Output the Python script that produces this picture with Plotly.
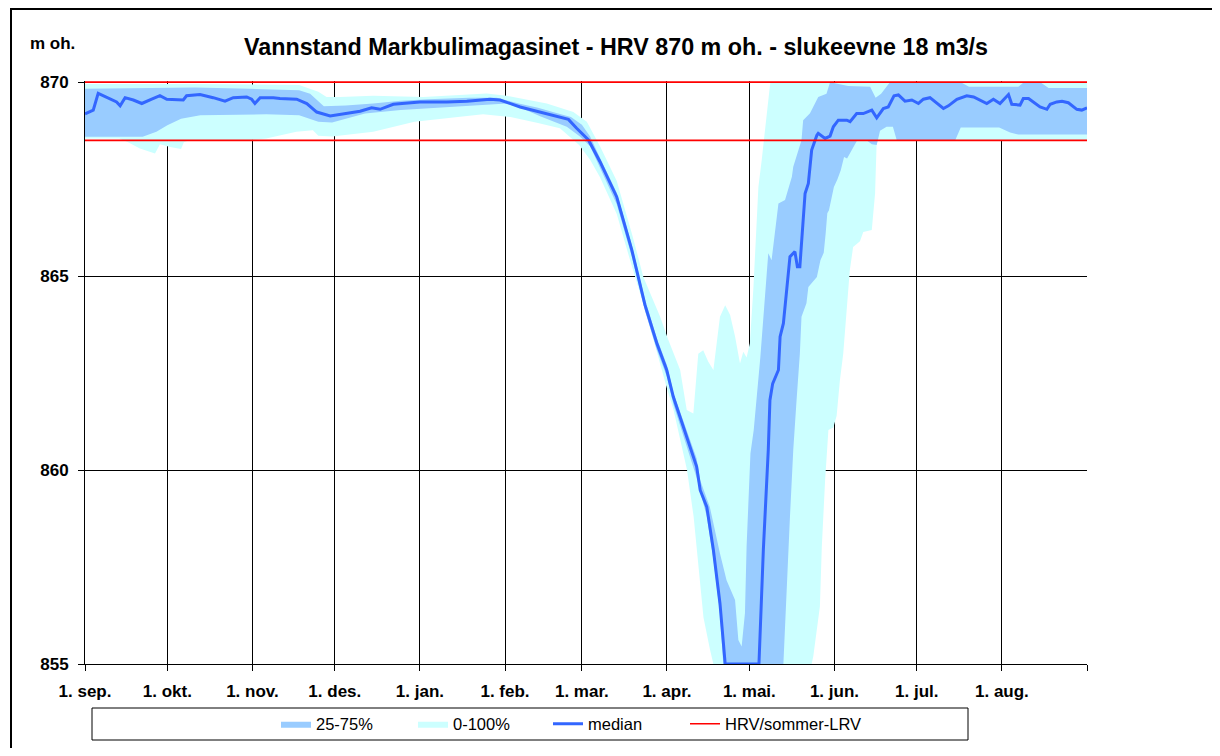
import plotly.graph_objects as go

# ---- axis categories (day of hydrological year, 1. sep = day 0) ----
month_days = [0, 30, 61, 91, 122, 153, 181, 212, 242, 273, 303, 334, 365]
month_labels = ["1. sep.", "1. okt.", "1. nov.", "1. des.", "1. jan.", "1. feb.",
                "1. mar.", "1. apr.", "1. mai.", "1. jun.", "1. jul.", "1. aug.", ""]
y_ticks = [855, 860, 865, 870]

# ---- reservoir limits ----
hrv = 870.0
summer_lrv = 868.5

# ---- median ----
median_day = [0, 3.0, 4.8, 7.9, 11.5, 12.8, 14.6, 17.6, 20.7, 24.3, 27.3, 29.8, 35.8, 37.0, 41.9,
              46.7, 51.0, 54.0, 58.9, 60.7, 61.9, 63.8, 68.6, 71.0, 77.1, 80.8, 84.4, 89.3, 95.3,
              100.2, 104.4, 107.5, 112.3, 122.0, 131.8, 139.1, 147.5, 151.2, 158.5, 165.8, 171.8,
              176.1, 179.1, 183.4, 187.6, 193.7, 199.2, 204.0, 208.3, 211.9, 214.3, 219.2, 222.8,
              224.1, 226.5, 228.9, 231.3, 233.2, 245.5, 247.1, 248.9, 249.5, 250.5, 252.6, 253.2,
              254.4, 256.8, 258.6, 259.5, 260.4, 262.3, 263.5, 264.7, 266.6, 267.1, 269.6, 271.4,
              272.6, 274.4, 277.5, 278.7, 281.1, 283.5, 286.6, 288.4, 290.8, 292.6, 294.7, 296.3,
              298.7, 301.2, 303.6, 305.4, 307.8, 310.9, 312.7, 314.5, 317.6, 321.2, 323.7, 328.5,
              330.9, 333.3, 335.8, 336.4, 337.6, 340.6, 341.8, 343.7, 347.9, 350.4, 351.6, 354.0,
              355.9, 358.2, 361.3, 363.1, 365.0]
median_val = [869.18, 869.28, 869.71, 869.60, 869.49, 869.39, 869.60, 869.54, 869.45, 869.56, 869.65,
              869.56, 869.54, 869.65, 869.68, 869.60, 869.51, 869.60, 869.62, 869.56, 869.45, 869.60,
              869.60, 869.58, 869.56, 869.45, 869.23, 869.13, 869.19, 869.25, 869.34, 869.30, 869.43,
              869.49, 869.49, 869.51, 869.56, 869.54, 869.36, 869.22, 869.11, 869.04, 868.81, 868.51,
              867.95, 867.04, 865.67, 864.25, 863.27, 862.58, 861.89, 860.86, 860.09, 859.48, 859.05,
              857.94, 856.56, 855.0, 855.0, 857.94, 860.52, 861.80, 862.23, 862.58, 863.44, 863.78,
              865.50, 865.63, 865.24, 865.24, 867.13, 867.39, 868.25, 868.63, 868.68, 868.55, 868.61,
              868.85, 869.02, 869.02, 868.98, 869.19, 869.19, 869.28, 869.08, 869.32, 869.36, 869.65,
              869.67, 869.51, 869.54, 869.45, 869.56, 869.60, 869.41, 869.32, 869.39, 869.56, 869.65,
              869.62, 869.45, 869.56, 869.45, 869.62, 869.68, 869.43, 869.41, 869.58, 869.58, 869.36,
              869.30, 869.43, 869.49, 869.51, 869.47, 869.30, 869.28, 869.34]

# ---- 75 % percentile ----
p75_day = [0, 20, 40, 60, 78, 82, 84.5, 87, 95, 105, 115, 125, 140, 150, 158, 165, 172, 177, 181,
           184, 187.6, 193.7, 199.2, 204, 208.3, 212, 214.3, 219.2, 222.8, 224.1, 227.6, 231.3,
           233.7, 236.8, 238.0, 239.2, 240.4, 241.0, 242.4, 243.6, 244.8, 246.0, 248.9, 250.1,
           252.6, 255.0, 257.5, 258.0, 261.0, 261.6, 264.1, 267.1, 270.1, 271.4, 278, 286, 288,
           290, 293, 296, 319, 322, 340, 342, 348, 351, 365]
p75_val = [869.83, 869.84, 869.86, 869.83, 869.79, 869.70, 869.55, 869.38, 869.40, 869.45, 869.52,
           869.56, 869.60, 869.60, 869.45, 869.34, 869.20, 869.10, 868.90, 868.60, 868.05, 867.15,
           865.80, 864.40, 863.40, 862.70, 862.00, 861.00, 860.30, 859.74, 859.05, 857.85, 857.16,
           856.65, 855.62, 855.45, 856.31, 858.02, 860.43, 861.03, 861.89, 862.90, 865.59, 865.41,
           866.87, 866.96, 867.56, 867.82, 868.50, 869.02, 869.20, 869.62, 869.70, 870.0, 869.90,
           869.88, 869.60, 869.70, 869.98, 870.0, 870.0, 869.88, 869.88, 870.0, 870.0, 869.85, 869.85]

# ---- 25 % percentile ----
p25_day = [0, 21, 26, 30, 35, 42, 66, 78, 85, 90, 102, 115, 141, 153.6, 160, 165.8, 175.5, 180.3,
           184, 187.6, 193.7, 199.2, 204, 208.3, 212, 214.3, 219.2, 222.8, 226.5, 228.9, 231.3,
           232.5, 254.4, 255.6, 256.8, 258.0, 259.2, 260.4, 261.0, 262.8, 263.5, 266.6, 267.9,
           269.1, 269.8, 270.4, 271.0, 272.8, 274.1, 275.3, 276.5, 277.6, 281.3, 284.7, 286.6,
           288.4, 289.6, 292.0, 294.3, 295.7, 317, 319, 333, 337, 340, 365]
p25_val = [868.59, 868.59, 868.72, 868.89, 869.06, 869.15, 869.17, 869.15, 868.98, 868.96, 869.19,
           869.28, 869.39, 869.45, 869.30, 869.12, 868.85, 868.60, 868.35, 867.80, 866.85, 865.50,
           864.10, 863.10, 862.40, 861.70, 860.60, 859.80, 858.80, 857.70, 856.30, 855.0, 855.0,
           857.08, 858.80, 860.52, 861.80, 863.00, 863.95, 864.30, 864.72, 864.98, 865.41, 865.60,
           866.10, 866.62, 866.70, 867.30, 867.50, 867.73, 868.07, 868.03, 868.50, 868.50, 868.40,
           868.38, 868.75, 868.85, 868.85, 868.50, 868.50, 868.83, 868.83, 868.70, 868.65, 868.65]

# ---- maximum (100 %) ----
p100_day = [0, 40, 78, 82, 85, 88, 92.9, 105, 123.2, 146.3, 153.6, 168.2, 177.9, 182.8, 187.6,
            193.7, 199.2, 203.4, 209.5, 212.5, 216.8, 219.2, 221.6, 223.4, 225.2, 227.0, 228.9,
            231.3, 233.2, 235.0, 236.8, 238.6, 239.8, 241.0, 242.2, 243.5, 244.7, 245.3, 246.5,
            248.4, 249.6, 250.5, 365]
p100_val = [869.95, 869.95, 869.93, 869.82, 869.75, 869.62, 869.62, 869.65, 869.62, 869.71, 869.65,
            869.45, 869.23, 868.98, 868.35, 867.45, 866.10, 864.98, 863.95, 863.35, 862.58, 861.55,
            861.46, 863.00, 863.09, 862.80, 862.58, 863.95, 864.25, 864.00, 863.44, 862.75, 863.05,
            862.90, 863.27, 864.72, 866.70, 867.30, 867.99, 869.28, 869.97, 870.0, 870.0]

# ---- minimum (0 %) ----
p0_day = [0, 12.5, 15.5, 20, 25.5, 27.3, 31, 35, 36, 38, 60, 66, 77, 83, 85, 90, 95, 105, 120, 130,
          145, 155, 165, 173, 180, 184, 187.6, 193.7, 198.6, 204.6, 212, 214.4, 219.3, 221.7,
          223.5, 225.3, 227.7, 228.9, 264.7, 265.3, 267.7, 268.4, 269.6, 270.8, 272.6, 273.8,
          275.0, 276.2, 278.6, 279.8, 282.3, 283.5, 286.6, 287.8, 288.4, 365]
p0_val = [868.55, 868.55, 868.46, 868.29, 868.16, 868.40, 868.33, 868.28, 868.45, 868.50, 868.50,
          868.55, 868.72, 868.76, 868.62, 868.60, 868.63, 868.72, 868.98, 869.06, 869.17, 869.10,
          868.95, 868.81, 868.38, 868.00, 867.55, 866.60, 865.40, 864.00, 862.10, 861.55, 860.00,
          858.80, 857.50, 856.20, 855.36, 855.0, 855.0, 855.20, 856.48, 858.02, 859.74, 861.03,
          861.10, 861.40, 862.32, 863.00, 865.15, 865.75, 865.90, 866.14, 866.19, 867.13, 868.50,
          868.50]

FONT = "Liberation Sans, Arial, sans-serif"

fig = go.Figure()
fig.add_trace(go.Scatter(
    x=p100_day + p0_day[::-1], y=p100_val + p0_val[::-1],
    fill="toself", fillcolor="#CCFFFF", mode="lines", line=dict(width=0, color="#CCFFFF"),
    name="0-100%", legendrank=2, legendwidth=90, hoverinfo="skip"))
fig.add_trace(go.Scatter(
    x=p75_day + p25_day[::-1], y=p75_val + p25_val[::-1],
    fill="toself", fillcolor="#99CCFF", mode="lines", line=dict(width=0, color="#99CCFF"),
    name="25-75%", legendrank=1, legendwidth=92, hoverinfo="skip"))
fig.add_trace(go.Scatter(
    x=median_day, y=median_val, mode="lines",
    line=dict(color="#3366FF", width=3), name="median", legendrank=3, legendwidth=92))
fig.add_trace(go.Scatter(
    x=[month_days[0], month_days[-1], None, month_days[0], month_days[-1]],
    y=[hrv, hrv, None, summer_lrv, summer_lrv], mode="lines",
    line=dict(color="#FF0000", width=1.6), name="HRV/sommer-LRV", legendrank=4,
    legendwidth=150))

# page body has an 8 px margin: figure is placed at (8, 8) in the window
OFF = 8
W, H = 1204, 740
L = 85 - OFF
T = 81 - OFF
R = W - (1087 - OFF)
B = H - (664 - OFF)
pw, ph = W - L - R, H - T - B


def px_x(px):
    return (px - OFF - L) / pw


def px_y(py):
    return (H - B - (py - OFF)) / ph


fig.update_layout(
    width=W, height=H,
    margin=dict(l=L, r=R, t=T, b=B, autoexpand=False),
    paper_bgcolor="white", plot_bgcolor="white",
    font=dict(family=FONT, color="black"),
    title=dict(text="Vannstand Markbulimagasinet - HRV 870 m oh. - slukeevne 18 m3/s",
               x=(616 - OFF) / W, xanchor="center", xref="container",
               y=1 - (47 - OFF) / H, yanchor="middle", yref="container",
               font=dict(family=FONT, size=23.3, weight="bold", color="black")),
    showlegend=True,
    legend=dict(orientation="h", xref="container", yref="container",
                x=(276 - OFF) / W, xanchor="left",
                y=1 - (724 - OFF) / H, yanchor="middle",
                font=dict(family=FONT, size=16.5, color="black"),
                bgcolor="rgba(0,0,0,0)", borderwidth=0, traceorder="normal"),
    xaxis=dict(range=[month_days[0], month_days[-1]], tickmode="array",
               tickvals=month_days, ticktext=month_labels, automargin=False,
               showgrid=True, gridcolor="#000000", gridwidth=1,
               ticks="outside", ticklen=6, tickcolor="#000000", tickwidth=1,
               showline=True, linecolor="#000000", linewidth=1,
               zeroline=False, tickangle=0, ticklabelstandoff=6,
               tickfont=dict(family=FONT, size=17, weight="bold", color="black")),
    yaxis=dict(range=[y_ticks[0], y_ticks[-1] + 0.03], tickmode="array", tickvals=y_ticks,
               showgrid=True, gridcolor="#000000", gridwidth=1, automargin=False,
               ticks="outside", ticklen=6, tickcolor="#000000", tickwidth=1,
               showline=True, linecolor="#000000", linewidth=1, zeroline=False,
               ticklabelstandoff=6,
               tickfont=dict(family=FONT, size=17, weight="bold", color="black")),
    annotations=[dict(text="m oh.", x=px_x(52), y=px_y(44), xref="paper", yref="paper",
                      showarrow=False, xanchor="center", yanchor="middle",
                      font=dict(family=FONT, size=17, weight="bold", color="black"))],
    shapes=[
        dict(type="rect", xref="paper", yref="paper", x0=px_x(92), x1=px_x(968),
             y0=px_y(740), y1=px_y(708), line=dict(color="black", width=1)),
        dict(type="line", xref="paper", yref="paper", x0=px_x(10), x1=px_x(1225),
             y0=px_y(9), y1=px_y(9), line=dict(color="black", width=2)),
        dict(type="line", xref="paper", yref="paper", x0=px_x(11), x1=px_x(11),
             y0=px_y(8), y1=px_y(760), line=dict(color="black", width=2)),
    ],
)

fig.write_html("out.html")
